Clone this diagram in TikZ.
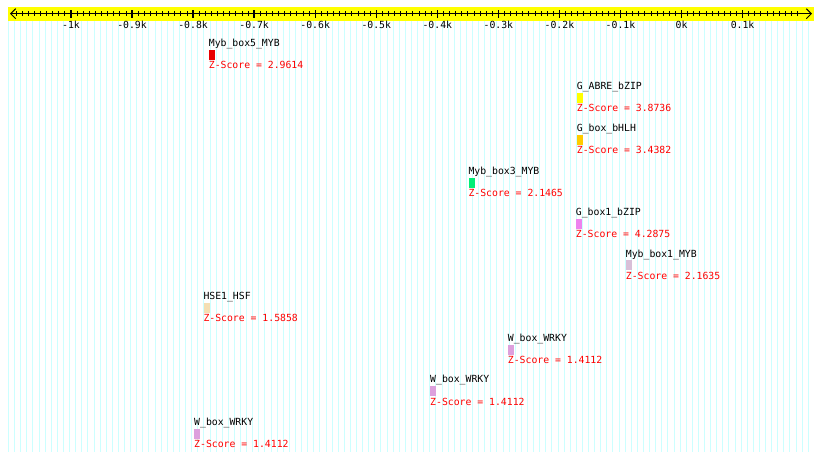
\documentclass[tikz,border=0pt]{standalone}
\usepackage{fontspec}
\setmonofont{DejaVu Sans Mono}
\usetikzlibrary{arrows.meta}
\definecolor{rulerfill}{HTML}{FFFF00}
\definecolor{gridcyan}{HTML}{CCFFFF}
\definecolor{scorered}{HTML}{FF0000}
\definecolor{mybred}{HTML}{E80000}
\definecolor{abreyellow}{HTML}{FFFF00}
\definecolor{gboxgold}{HTML}{FFCC00}
\definecolor{mybgreen}{HTML}{00EE76}
\definecolor{bzipviolet}{HTML}{EE82EE}
\definecolor{mybthistle}{HTML}{D8BFD8}
\definecolor{hsewheat}{HTML}{F5DEB3}
\definecolor{wrkyplum}{HTML}{DDA0DD}

\begin{document}
\begin{tikzpicture}[
			x=1pt, y=-1pt,
			font=\ttfamily\fontsize{9.8}{11}\selectfont,
			gridline/.style={draw=gridcyan, line width=1pt},
			minortick/.style={line width=0.8pt},
			majortick/.style={line width=1.3pt},
			axis/.style={line width=1pt, {Straight Barb[length=5pt,width=10pt]}-{Straight Barb[length=5pt,width=10pt]}},
			ticklab/.style={anchor=north, inner sep=0pt},
			motif/.style={anchor=base west, inner sep=0pt},
			score/.style={motif, text=scorered},
			site/.style={anchor=north west, inner sep=0pt, minimum width=6pt, minimum height=10pt, draw=none}
			]
			\useasboundingbox (0,0) rectangle (820,461);
			% background grid, one line per 10 bp
			\foreach \b in {-1100,-1090,...,210} {
				\draw[gridline] ({680.1+0.6105*\b},20.7) -- ({680.1+0.6105*\b},452);
			}
			% ruler
			\fill[rulerfill] (8,7) rectangle (814,20.7);
			\coordinate (axL) at (10,13.7);
			\coordinate (axR) at (812,13.7);
			\draw[axis] (axL) -- (axR);
			\foreach \b in {-1090,-1080,...,190} {
				\draw[minortick] ({681.5+0.6105*\b},11.4) -- ++(0,5);
			}
			\foreach \b/\l [count=\k] in {-1000/-1k,-900/-0.9k,-800/-0.8k,-700/-0.7k,-600/-0.6k,-500/-0.5k,-400/-0.4k,-300/-0.3k,-200/-0.2k,-100/-0.1k,0/0k,100/0.1k} {
				\draw[majortick] ({681.5+0.6105*\b},10.2) -- ++(0,7.4);
				\node[ticklab] (lab\k) at ({681.5+0.6105*\b},20.6) {\l};
			}
			% motif hits
			\foreach \x/\y/\nm/\c/\z [count=\k] in {
				208.7/39.3/Myb\_box5\_MYB/mybred/2.9614,
				576.7/82.3/G\_ABRE\_bZIP/abreyellow/3.8736,
				576.7/124.3/G\_box\_bHLH/gboxgold/3.4382,
				468.3/167.3/Myb\_box3\_MYB/mybgreen/2.1465,
				575.7/208.3/G\_box1\_bZIP/bzipviolet/4.2875,
				625.7/250/Myb\_box1\_MYB/mybthistle/2.1635,
				203.3/292.3/HSE1\_HSF/hsewheat/1.5858,
				507.7/334.3/W\_box\_WRKY/wrkyplum/1.4112,
				430/375.7/W\_box\_WRKY/wrkyplum/1.4112,
				194/418.3/W\_box\_WRKY/wrkyplum/1.4112} {
				\node[motif] (name\k) at (\x,\y+7.2) {\nm};
				\node[site, fill=\c] (site\k) at (\x,\y+10) {};
				\node[score] (score\k) at (\x,\y+29.4) {Z-Score = \z};
			}
		\end{tikzpicture}
\end{document}
